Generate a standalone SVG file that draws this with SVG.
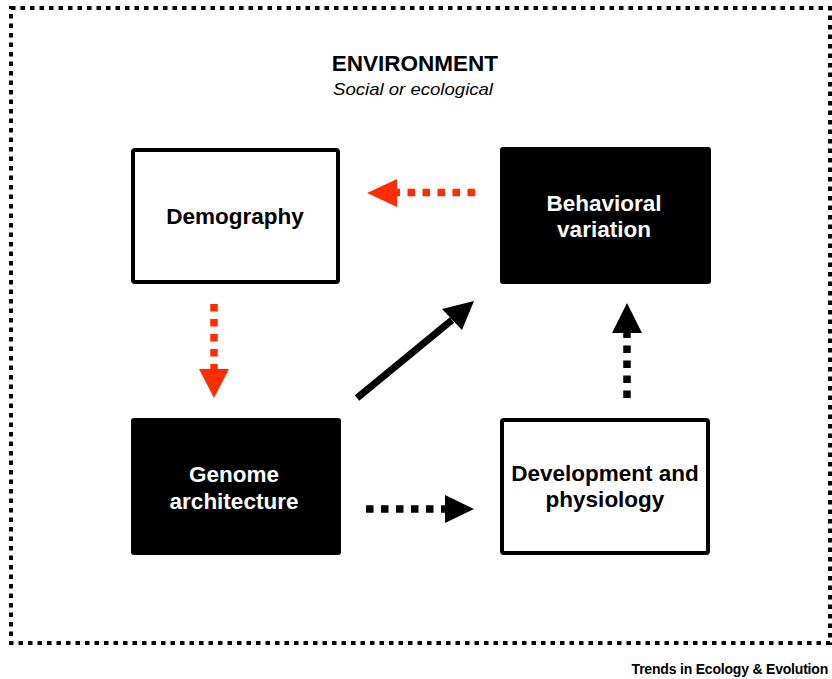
<svg xmlns="http://www.w3.org/2000/svg" width="832" height="679" viewBox="0 0 832 679">
<style>
  .lbl { font-family: "Liberation Sans", Arial, sans-serif; font-weight: bold; font-size: 22.5px; text-anchor: middle; }
  .wbox { fill: #ffffff; stroke: #000000; stroke-width: 4; }
  .bbox { fill: #000000; stroke: none; }
  .red { stroke: #ff2d00; stroke-width: 7.5; stroke-dasharray: 7.5 7.5; fill: none; }
  .blk { stroke: #000000; stroke-width: 7.5; stroke-dasharray: 7.5 7.5; fill: none; }
  .redhead { fill: #ff2d00; }
  .blkhead { fill: #000000; }
</style>
<rect width="832" height="679" fill="#ffffff"/>
<g id="environment">
  <rect x="11" y="8" width="819" height="635" fill="none" stroke="#000" stroke-width="4" stroke-dasharray="4.5 5"/>
  <text x="415" y="71" class="lbl">ENVIRONMENT</text>
  <text x="413" y="95" font-family="Liberation Sans, Arial, sans-serif" font-style="italic" font-size="17" text-anchor="middle" textLength="160" lengthAdjust="spacingAndGlyphs">Social or ecological</text>
</g>
<g id="demography">
  <rect x="133" y="150" width="205" height="132" rx="2" class="wbox"/>
  <text x="235" y="224" class="lbl">Demography</text>
</g>
<g id="behavioral">
  <rect x="500" y="147" width="211" height="137" rx="3" class="bbox"/>
  <text x="604" y="211" class="lbl" fill="#fff">Behavioral</text>
  <text x="604" y="237" class="lbl" fill="#fff">variation</text>
</g>
<g id="genome">
  <rect x="131" y="418" width="210" height="137" rx="3" class="bbox"/>
  <text x="234" y="482" class="lbl" fill="#fff">Genome</text>
  <text x="234" y="509" class="lbl" fill="#fff">architecture</text>
</g>
<g id="development">
  <rect x="502" y="420" width="206" height="133" rx="2" class="wbox"/>
  <text x="605" y="481" class="lbl">Development and</text>
  <text x="605" y="507" class="lbl">physiology</text>
</g>
<g id="connectors">
  <line x1="475" y1="192.5" x2="397" y2="192.5" class="red"/>
  <polygon points="367,193 397,179 397,207" class="redhead"/>
  <line x1="214" y1="304" x2="214" y2="370" class="red"/>
  <polygon points="199,369 229,369 214,398" class="redhead"/>
  <line x1="357" y1="398" x2="452" y2="320" stroke="#000" stroke-width="7"/>
  <polygon points="474,301 442,309 462,330" class="blkhead"/>
  <line x1="627" y1="398" x2="627" y2="332" class="blk"/>
  <polygon points="612,333 642,333 627,303" class="blkhead"/>
  <line x1="366" y1="509" x2="446" y2="509" class="blk"/>
  <polygon points="445,495 445,523 474,509" class="blkhead"/>
</g>
<text x="828" y="674" font-family="Liberation Sans, Arial, sans-serif" font-weight="bold" font-size="14" letter-spacing="-0.2" text-anchor="end">Trends in Ecology &amp; Evolution</text>
</svg>
